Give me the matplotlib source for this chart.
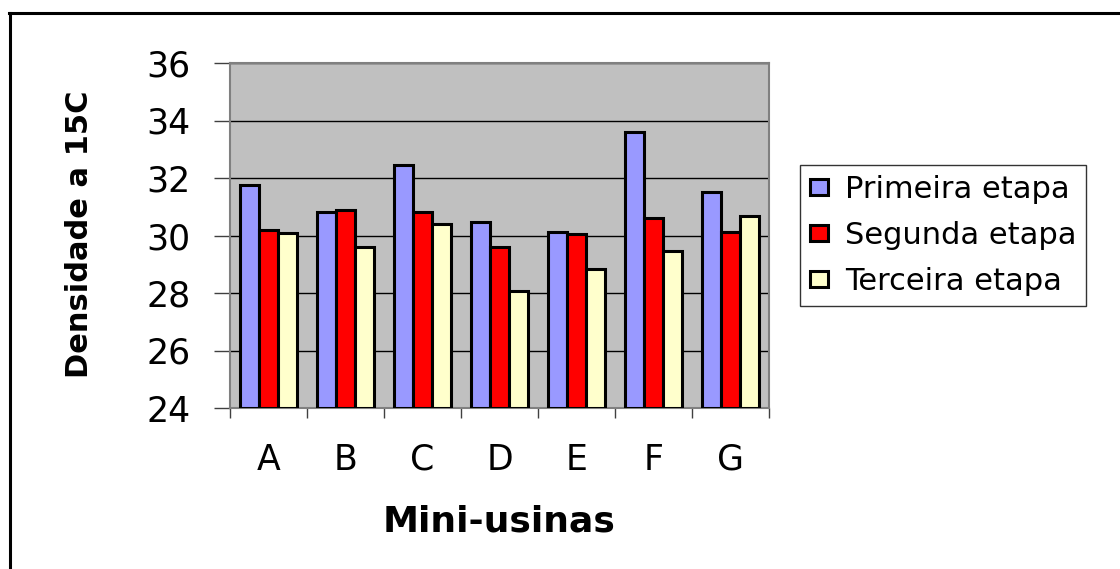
import numpy as np
import matplotlib
matplotlib.use('Agg')
import matplotlib.pyplot as plt
from matplotlib.lines import Line2D

plt.rcParams['font.family'] = ['DejaVu Sans']

usinas = ['A', 'B', 'C', 'D', 'E', 'F', 'G']
primeira = [31.76, 30.83, 32.45, 30.46, 30.13, 33.60, 31.51]
segunda = [30.20, 30.90, 30.83, 29.60, 30.06, 30.60, 30.13]
terceira = [30.07, 29.60, 30.39, 28.08, 28.83, 29.46, 30.69]
etapas = ['Primeira etapa', 'Segunda etapa', 'Terceira etapa']
cores = ['#9999FF', '#FF0000', '#FFFFCC']
yticks = [24, 26, 28, 30, 32, 34, 36]

W, H = 1120, 569
fig = plt.figure(figsize=(W / 100, H / 100), dpi=100)
ax = fig.add_axes([230 / W, 1 - 408 / H, 539 / W, 345 / H])
ax.set_facecolor('#C0C0C0')

x = np.arange(len(usinas))
w = 0.25
for k, (serie, cor, nome) in enumerate(zip([primeira, segunda, terceira], cores, etapas)):
  ax.bar(x + (k - 1) * w, np.array(serie) - 24, bottom=24, width=w,
    color=cor, edgecolor='black', linewidth=2.2, label=nome, zorder=3)

ax.set_xlim(-0.5, len(usinas) - 0.5)
ax.set_ylim(24, 36)
ax.set_yticks(yticks)
ax.set_yticklabels([str(v) for v in yticks], fontsize=25)
ax.yaxis.grid(True, color='black', linewidth=1, zorder=1)
ax.set_axisbelow(True)
ax.tick_params(axis='y', length=11.5, width=1, color='#404040', pad=17)

# boundary ticks between groups, labels centred on each group
ax.set_xticks(np.arange(len(usinas) + 1) - 0.5)
ax.set_xticklabels([])
ax.tick_params(axis='x', which='major', length=7, width=1, color='#404040')
ax.set_xticks(x, usinas, minor=True)
ax.tick_params(axis='x', which='minor', length=0, pad=25, labelsize=25)

for s in ax.spines.values():
  s.set_color('#808080')
  s.set_linewidth(1.5)

fig.text(80 / W, 1 - 234 / H, 'Densidade a 15C', rotation=90, ha='center', va='center',
  fontsize=22, fontweight='bold')
fig.text(499.5 / W, 1 - 531 / H, 'Mini-usinas', ha='center', va='baseline',
  fontsize=26, fontweight='bold')

leg = ax.legend(loc='upper left', bbox_to_anchor=(800 / W, 1 - 165 / H),
  bbox_transform=fig.transFigure, borderaxespad=0, fontsize=22, fancybox=False,
  frameon=True, handlelength=0.6, handleheight=0.45, handletextpad=0.55,
  labelspacing=0.56, borderpad=0.32)
leg.get_frame().set_edgecolor('black')
leg.get_frame().set_linewidth(1)

# chart area border: top and left edges only
fig.add_artist(Line2D([9 / W, 1], [1 - 12.5 / H, 1 - 12.5 / H], color='black', linewidth=2.2,
  transform=fig.transFigure))
fig.add_artist(Line2D([9.5 / W, 9.5 / W], [0, 1 - 12.5 / H], color='black', linewidth=2.2,
  transform=fig.transFigure))

fig.savefig('out.png', dpi=100)
